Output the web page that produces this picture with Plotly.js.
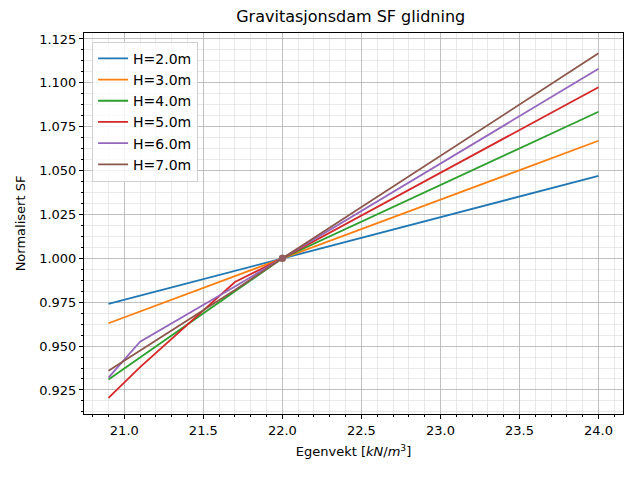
<!DOCTYPE html>
<html>
<head>
<meta charset="utf-8">
<script src="https://cdn.plot.ly/plotly-3.0.1.min.js"></script>
<style>html,body{margin:0;padding:0;background:#fff;}#chart{width:640px;height:480px;}</style>
</head>
<body>
<div id="chart"></div>
<script>
const egenvekt = [20.9, 21.1, 21.7, 22.0, 24.0];
const seriesNames = ["H=2.0m", "H=3.0m", "H=4.0m", "H=5.0m", "H=6.0m", "H=7.0m"];
const sfH2 = [0.974, 0.9787, 0.9929, 1.0, 1.047];
const sfH3 = [0.963, 0.9697, 0.9899, 1.0, 1.067];
const sfH4 = [0.931, 0.9436, 0.9812, 1.0, 1.0835];
const sfH5 = [0.9205, 0.938, 0.9865, 1.0, 1.0975];
const sfH6 = [0.932, 0.9525, 0.984, 1.0, 1.108];
const sfH7 = [0.936, 0.9476, 0.982, 1.0, 1.1168];
const refX = [22.0];
const refY = [1.0];
const colors = ["#1f77b4", "#ff7f0e", "#2ca02c", "#d62728", "#9467bd", "#8c564b"];
const allSeries = [sfH2, sfH3, sfH4, sfH5, sfH6, sfH7];

const traces = [];
allSeries.forEach((ys, i) => {
  traces.push({
    x: egenvekt, y: ys, type: "scatter", mode: "lines", name: seriesNames[i],
    line: {color: colors[i], width: 1.8}
  });
});
allSeries.forEach((ys, i) => {
  traces.push({
    x: refX, y: refY, type: "scatter", mode: "markers", showlegend: false,
    marker: {color: colors[i], size: 7, opacity: 0.5}, hoverinfo: "skip"
  });
});

const font = "DejaVu Sans, sans-serif";
const axisCommon = {
  showline: true, mirror: true, linecolor: "#000", linewidth: 1,
  ticks: "outside", ticklen: 4, tickwidth: 1, tickcolor: "#000",
  showgrid: true, gridcolor: "#b0b0b0", gridwidth: 0.8,
  zeroline: false,
  tickfont: {family: font, size: 13, color: "#000"}
};

const layout = {
  width: 640, height: 480,
  margin: {l: 84, r: 17, t: 33, b: 66},
  paper_bgcolor: "#fff", plot_bgcolor: "#fff",
  title: {text: "Gravitasjonsdam SF glidning", font: {family: font, size: 16, color: "#000"}, x: 0.548, xanchor: "center", y: 0.965, yanchor: "middle"},
  showlegend: true,
  legend: {x: 0.015, y: 0.977, xanchor: "left", yanchor: "top", bgcolor: "rgba(255,255,255,0.8)",
    bordercolor: "#d0d0d0", borderwidth: 1, font: {family: font, size: 14, color: "#000"}, tracegroupgap: 0},
  xaxis: Object.assign({}, axisCommon, {
    range: [20.745, 24.155], tick0: 21, dtick: 0.5, tickformat: ".1f",
    minor: {dtick: 0.1, ticks: "outside", ticklen: 2, tickcolor: "#000", showgrid: true, gridcolor: "#dadada", gridwidth: 0.6},
    title: {text: "Egenvekt [<i>kN</i>/<i>m</i><sup>3</sup>]", font: {family: font, size: 13, color: "#000"}, standoff: 10}
  }),
  yaxis: Object.assign({}, axisCommon, {
    range: [0.9113, 1.1284], tick0: 0.925, dtick: 0.025, tickformat: ".3f",
    minor: {dtick: 0.00625, ticks: "outside", ticklen: 2, tickcolor: "#000", showgrid: true, gridcolor: "#dadada", gridwidth: 0.6},
    title: {text: "Normalisert SF", font: {family: font, size: 13, color: "#000"}, standoff: 10}
  })
};

Plotly.newPlot("chart", traces, layout, {displayModeBar: false, staticPlot: true});
</script>
</body>
</html>
